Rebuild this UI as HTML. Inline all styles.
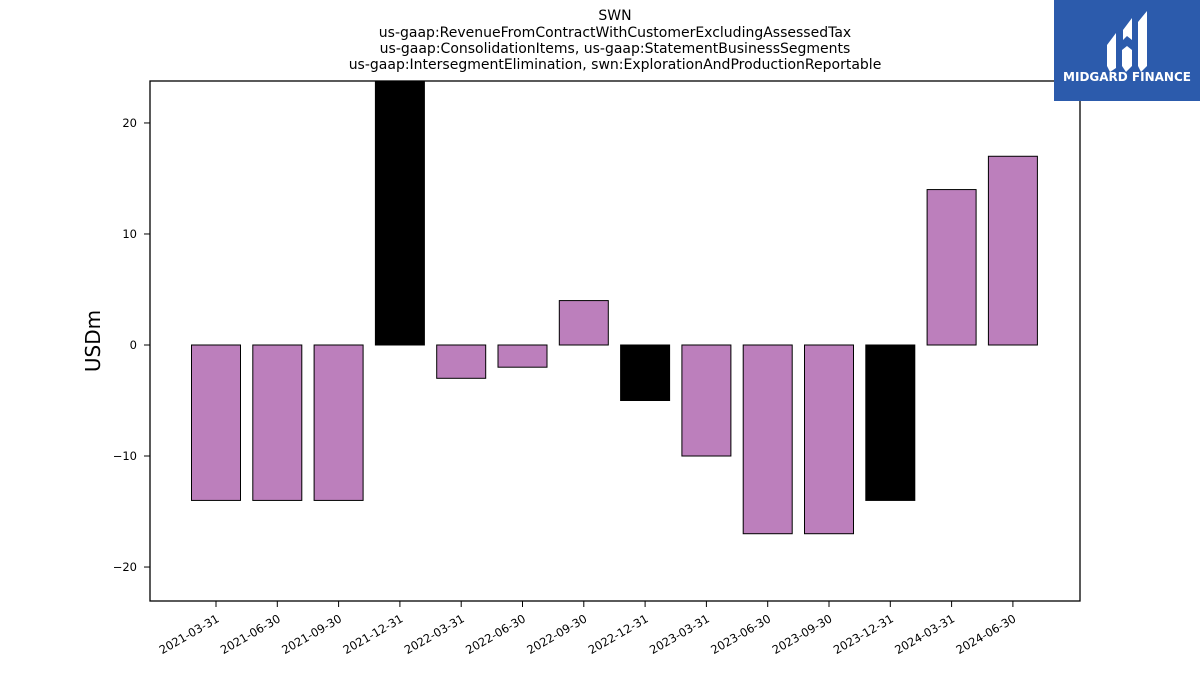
<!DOCTYPE html>
<html><head><meta charset="utf-8"><style>
html,body{margin:0;padding:0;background:#fff;width:1200px;height:675px;overflow:hidden;font-family:"DejaVu Sans","Liberation Sans",sans-serif}
</style></head><body>
<svg id="chart" width="1200" height="675" xmlns="http://www.w3.org/2000/svg" font-family="DejaVu Sans, Liberation Sans, sans-serif">
<g font-size="14" text-anchor="middle" fill="#000">
<text x="615" y="20">SWN</text>
<text x="615" y="37">us-gaap:RevenueFromContractWithCustomerExcludingAssessedTax</text>
<text x="615" y="53">us-gaap:ConsolidationItems, us-gaap:StatementBusinessSegments</text>
<text x="615" y="69">us-gaap:IntersegmentElimination, swn:ExplorationAndProductionReportable</text>
</g>
<defs><clipPath id="pc"><rect x="150" y="81" width="930" height="520"/></clipPath></defs>
<g id="bars" clip-path="url(#pc)"></g>
<g id="yticks"></g>
<g id="xticks"></g>
<rect x="150" y="81" width="930" height="520" fill="none" stroke="#000" stroke-width="1.3"/>
<text x="100" y="341" font-size="20" text-anchor="middle" transform="rotate(-90 100 341)">USDm</text>
<g>
<rect x="1054" y="0" width="146" height="101" fill="#2c5bac"/>
<path d="M1107 45 L1116 33 L1116 68 L1110 72 L1107 66 Z" fill="#fff"/>
<path d="M1123 30 L1132 18 L1132 40 L1127 36 L1123 40 Z" fill="#fff"/>
<path d="M1122 50 L1127 46 L1132 50 L1132 66 L1126 72 L1122 66 Z" fill="#fff"/>
<path d="M1138 22 L1147 11 L1147 66 L1141 72 L1138 66 Z" fill="#fff"/>
<text x="1127" y="81" font-size="12" font-weight="bold" fill="#fff" text-anchor="middle">MIDGARD FINANCE</text>
</g>
</svg>
<script>
const categories=["2021-03-31","2021-06-30","2021-09-30","2021-12-31","2022-03-31","2022-06-30","2022-09-30","2022-12-31","2023-03-31","2023-06-30","2023-09-30","2023-12-31","2024-03-31","2024-06-30"];
const values=[-14,-14,-14,30,-3,-2,4,-5,-10,-17,-17,-14,14,17];
const highlight=[false,false,false,true,false,false,false,true,false,false,false,true,false,false];
const yTicks=[-20,-10,0,10,20];
const yTickLabels=["\u221220","\u221210","0","10","20"];
const NS="http://www.w3.org/2000/svg";
const yMin=-23.06,yMax=23.78,plotTop=81,plotBottom=601;
function yS(v){return plotBottom-(v-yMin)/(yMax-yMin)*(plotBottom-plotTop);}
const x0=216,step=61.3,bw=49;
function xS(i){return x0+i*step;}
const bars=document.getElementById('bars'),yt=document.getElementById('yticks'),xt=document.getElementById('xticks');
values.forEach((v,i)=>{
 const r=document.createElementNS(NS,'rect');
 
 
 const y1=yS(Math.max(v,0)),y2=yS(Math.min(v,0));
 r.setAttribute('x',xS(i)-bw/2);r.setAttribute('y',y1);r.setAttribute('width',bw);r.setAttribute('height',y2-y1);
 r.setAttribute('fill',highlight[i]?'#000':'#bc7fbc');r.setAttribute('stroke','#000');r.setAttribute('stroke-width','1');
 bars.appendChild(r);
 const t=document.createElementNS(NS,'line');
 
 
 t.setAttribute('x1',xS(i));t.setAttribute('x2',xS(i));t.setAttribute('y1',plotBottom);t.setAttribute('y2',plotBottom+6);t.setAttribute('stroke','#000');
 xt.appendChild(t);
 const l=document.createElementNS(NS,'text');
 
 
 const lx=xS(i)+4,ly=plotBottom+20;
 l.setAttribute('x',lx);l.setAttribute('y',ly);l.setAttribute('font-size','11.5');l.setAttribute('text-anchor','end');
 l.setAttribute('transform','rotate(-30 '+lx+' '+ly+')');l.textContent=categories[i];
 xt.appendChild(l);
});
yTicks.forEach((v,i)=>{
 const t=document.createElementNS(NS,'line');
 
 
 t.setAttribute('x1',150);t.setAttribute('x2',144);t.setAttribute('y1',yS(v));t.setAttribute('y2',yS(v));t.setAttribute('stroke','#000');
 yt.appendChild(t);
 const l=document.createElementNS(NS,'text');
 
 
 l.setAttribute('x',137);l.setAttribute('y',yS(v)+4);l.setAttribute('font-size','11.5');l.setAttribute('text-anchor','end');
 l.textContent=yTickLabels[i];
 yt.appendChild(l);
});
</script>
</body></html>
